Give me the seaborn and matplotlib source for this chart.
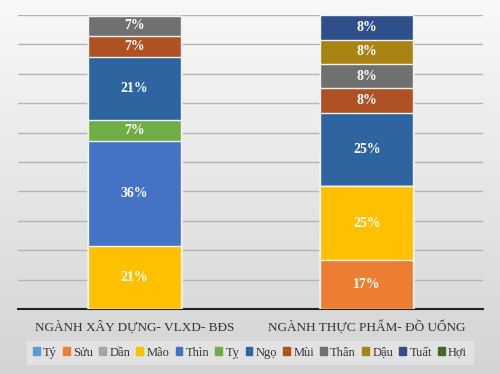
import matplotlib.pyplot as plt
import numpy as np
import pandas as pd
import seaborn as sns

# chart data (percent of companies per sector, by birth year animal)
categories = ["NGÀNH XÂY DỰNG- VLXD- BĐS", "NGÀNH THỰC PHẨM- ĐỒ UỐNG"]
animals = ["Tý", "Sửu", "Dần", "Mão", "Thìn", "Tỵ",
           "Ngọ", "Mùi", "Thân", "Dậu", "Tuất", "Hợi"]
xay_dung = [0, 0, 0, 21.4, 35.7, 7.1, 21.4, 7.1, 7.1, 0, 0, 0]
thuc_pham = [0, 16.7, 0, 25.0, 0, 0, 25.0, 8.3, 8.3, 8.3, 8.3, 0]
colors = ["#5B9BD5", "#ED7D31", "#A5A5A5", "#FFC000", "#4472C4", "#70AD47",
          "#2E65A0", "#AE5224", "#707070", "#A98412", "#2F4F8A", "#43682B"]

serif = ["Liberation Serif", "DejaVu Serif"]


def main():
    sns.set_theme(style="white")
    plt.rcParams["font.family"] = serif

    df = pd.DataFrame({"animal": animals, categories[0]: xay_dung,
                       categories[1]: thuc_pham})

    fig = plt.figure(figsize=(5, 3.74), dpi=100)

    # soft gray gradient background
    bg = fig.add_axes([0, 0, 1, 1], zorder=-10)
    grad = np.linspace(0.975, 0.83, 256).reshape(-1, 1)
    bg.imshow(np.dstack([grad] * 3), aspect="auto", extent=[0, 1, 0, 1])
    bg.axis("off")

    ax = fig.add_axes([0.036, 0.174, 0.93, 0.786])
    ax.patch.set_alpha(0)

    long = df.melt(id_vars="animal", var_name="sector", value_name="pct")
    long["bottom"] = long.groupby("sector")["pct"].cumsum() - long["pct"]
    long["top"] = long["bottom"] + long["pct"]

    # stacked bars drawn as layered cumulative totals, top segment first
    for animal, color in reversed(list(zip(animals, colors))):
        sub = long[long["animal"] == animal]
        if sub["pct"].sum() == 0:
            continue
        sns.barplot(data=sub, x="sector", y="top", color=color, width=0.4,
                    order=categories, saturation=1, ax=ax,
                    edgecolor="#f2f2f2", linewidth=1.0, zorder=3)

    for _, row in long.iterrows():
        if row["pct"] <= 0:
            continue
        xi = categories.index(row["sector"])
        ax.text(xi, row["bottom"] + row["pct"] / 2, f"{row['pct']:.0f}%",
                ha="center", va="center", color="white", fontsize=10,
                fontweight="bold", zorder=5)

    ax.set_ylim(0, 100)
    ax.set_xlim(-0.5, 1.5)
    ax.set_yticks(np.arange(10, 101, 10))
    ax.set_yticklabels([])
    ax.yaxis.grid(True, color="#b4b4b4", linewidth=1.0, zorder=0)
    ax.set_axisbelow(True)
    for side in ["top", "right", "left"]:
        ax.spines[side].set_visible(False)
    ax.spines["bottom"].set_color("#222222")
    ax.spines["bottom"].set_linewidth(1.5)
    ax.tick_params(axis="y", length=0)
    ax.tick_params(axis="x", length=0, pad=8, labelsize=9.5, colors="#333333")
    ax.set_xlabel("")
    ax.set_ylabel("")

    handles = [plt.Rectangle((0, 0), 1, 1, color=c) for c in colors]
    leg = fig.legend(handles, animals, loc="center", bbox_to_anchor=(0.5, 0.057),
                     ncol=12, frameon=True, fontsize=9, handlelength=0.55,
                     handleheight=0.55, handletextpad=0.25, columnspacing=0.5,
                     borderpad=0.45, labelcolor="#333333")
    leg.get_frame().set_facecolor("#e6e6e6")
    leg.get_frame().set_edgecolor("#e6e6e6")
    leg.get_frame().set_boxstyle("square", pad=0)

    fig.savefig("out.png", dpi=100)
    plt.close(fig)


if __name__ == "__main__":
    main()
